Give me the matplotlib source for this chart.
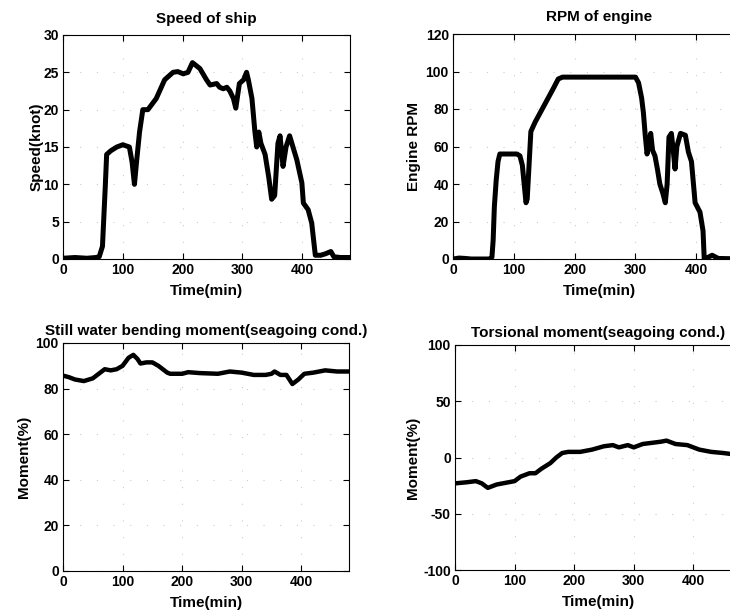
import matplotlib.pyplot as plt
import numpy as np

plt.rcParams['font.family'] = ['Liberation Sans', 'DejaVu Sans']
plt.rcParams['font.weight'] = 'bold'
plt.rcParams['axes.unicode_minus'] = False

# speed of ship (min, knot)
speed_t = [0, 20, 40, 55, 60.6, 66, 70.7, 73, 80, 90, 100, 111, 115.5, 119.5, 123, 128,
           133.5, 142, 156, 170, 184, 192, 201, 209, 216.5, 229, 240, 246, 257, 262, 268,
           274, 279, 285, 289, 295, 302, 307, 310, 316, 321, 324, 327.5, 331, 338, 344,
           349, 354, 359.5, 363, 368, 373, 379, 391, 399.5, 402, 410, 416, 422, 431,
           439, 448, 453, 464, 480]
speed_v = [0.1, 0.2, 0.1, 0.2, 0.3, 1.7, 9.7, 14, 14.5, 15, 15.3, 15, 13, 10, 13, 17,
           20, 20, 21.5, 24, 25, 25.1, 24.8, 25, 26.3, 25.5, 24, 23.3, 23.5, 23, 22.8,
           23, 22.5, 21.5, 20.2, 23.5, 24, 25, 24, 21.5, 17, 15, 17, 15.5, 14, 11,
           8, 8.5, 15.5, 16.5, 12.4, 15, 16.5, 13.3, 10.2, 7.5, 6.6, 4.8, 0.5, 0.5,
           0.7, 1.0, 0.3, 0.2, 0.2]

# engine rpm
rpm_t = [0, 10, 20, 30, 60, 64, 66, 68, 71, 74, 77, 90, 105, 110, 114, 117, 120, 122, 125,
         128, 135, 145, 155, 165, 173, 180, 250, 300, 305, 310, 313, 316, 319, 322, 325,
         328, 332, 336, 340, 345, 349, 352, 355, 359, 362, 365, 368, 374, 382, 387, 392,
         398, 406, 411, 413, 420, 426, 436, 480]
rpm_v = [0, 0.5, 0.3, 0, 0, 1, 10, 28, 42, 52, 56, 56, 56, 55, 50, 40, 30, 32, 50,
         68, 73, 79, 85, 91, 96, 97, 97, 97, 94, 86, 78, 66, 56, 62, 67,
         58, 55, 48, 40, 35, 30, 40, 65, 67, 58, 48, 60, 67, 66, 57, 52,
         30, 25, 15, 0, 1, 2, 0.3, 0]

# still water bending moment (%)
swbm_t = [0, 10, 20, 35, 50, 60, 70, 80, 90, 100, 110, 118, 125, 130, 140, 150, 160, 175,
          180, 200, 210, 230, 260, 280, 300, 320, 340, 350, 355, 365, 375, 385, 395,
          405, 420, 440, 460, 480]
swbm_v = [85.7, 85, 84, 83.3, 84.5, 86.5, 88.5, 88, 88.5, 90, 93.5, 94.8, 93, 91, 91.5,
          91.5, 90, 87, 86.5, 86.5, 87.2, 86.8, 86.5, 87.5, 87, 86, 86, 86.5, 87.5, 86,
          86, 82, 84, 86.5, 87, 88, 87.5, 87.5]

# torsional moment (%)
tors_t = [0, 20, 35, 45, 55, 70, 90, 100, 110, 125, 135, 145, 160, 170, 180, 190, 210,
          230, 250, 265, 275, 290, 300, 315, 330, 345, 355, 370, 390, 410, 430, 450,
          465, 480]
tors_v = [-23, -22, -21, -23, -27, -24, -22, -21, -17, -14, -14, -10, -5, 0, 4, 5, 5,
          7, 10, 11, 9, 11, 9, 12, 13, 14, 15, 12, 11, 7, 5, 4, 3, 2]

fig = plt.figure(figsize=(7.3, 6.14), dpi=100)


def setup(ax, title, ylabel, ylim, yticks, ypad, tpad):
    ax.set_xlim(0, 480)
    ax.set_ylim(*ylim)
    ax.set_xticks([0, 100, 200, 300, 400])
    ax.set_yticks(yticks)
    ax.tick_params(direction='in', top=True, right=True, labelsize=10, length=4,
                   width=0.8, pad=3)
    ax.grid(True, color='0.8', linestyle=(0, (1, 14)), linewidth=0.8)
    ax.set_title(title, fontsize=11, fontweight='bold', pad=tpad)
    ax.set_xlabel('Time(min)', fontsize=11, fontweight='bold', labelpad=5)
    ax.set_ylabel(ylabel, fontsize=11, fontweight='bold', labelpad=ypad)
    for s in ax.spines.values():
        s.set_linewidth(0.8)


ax1 = fig.add_axes([63 / 730, 1 - 259 / 614, 287 / 730, 224 / 614])
ax1.plot(speed_t, speed_v, color='black', lw=3.6, solid_joinstyle='round')
setup(ax1, 'Speed of ship', 'Speed(knot)', (0, 30), range(0, 31, 5), 0, 9)

ax2 = fig.add_axes([453 / 730, 1 - 259 / 614, 292 / 730, 225 / 614])
ax2.plot(rpm_t, rpm_v, color='black', lw=3.6, solid_joinstyle='round')
setup(ax2, 'RPM of engine', 'Engine RPM', (0, 120), range(0, 121, 20), 3, 9)

ax3 = fig.add_axes([63 / 730, 1 - 571 / 614, 286 / 730, 228 / 614])
ax3.plot(swbm_t, swbm_v, color='black', lw=3.2, solid_joinstyle='round')
setup(ax3, 'Still water bending moment(seagoing cond.)', 'Moment(%)', (0, 100),
      range(0, 101, 20), 3, 6)

ax4 = fig.add_axes([455 / 730, 1 - 570 / 614, 286 / 730, 225 / 614])
ax4.plot(tors_t, tors_v, color='black', lw=3.2, solid_joinstyle='round')
setup(ax4, 'Torsional moment(seagoing cond.)', 'Moment(%)', (-100, 100),
      [-100, -50, 0, 50, 100], 2, 6)

fig.savefig('out.png', dpi=100)
